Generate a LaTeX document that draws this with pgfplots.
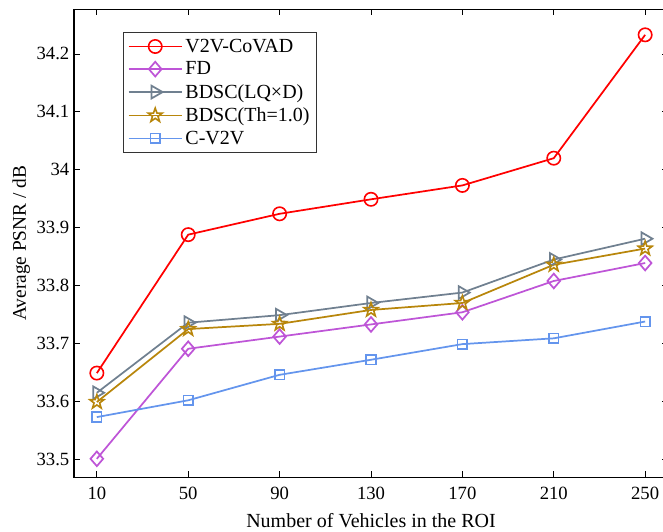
\documentclass[border=0pt]{standalone}
\usepackage{fontspec}
\setmainfont{Liberation Serif}
\usepackage{pgfplots}
\pgfplotsset{compat=1.18}

\definecolor{cRed}{RGB}{255,0,0}
\definecolor{cFD}{RGB}{190,85,215}
\definecolor{cLQ}{RGB}{112,128,144}
\definecolor{cTh}{RGB}{184,134,11}
\definecolor{cCV}{RGB}{100,149,237}

% outlined five-pointed star, like MATLAB's pentagram
\pgfdeclareplotmark{pentagram}{%
  \pgfpathmoveto{\pgfpointpolar{90}{\pgfplotmarksize}}%
  \pgfpathlineto{\pgfpointpolar{126}{0.4\pgfplotmarksize}}%
  \pgfpathlineto{\pgfpointpolar{162}{\pgfplotmarksize}}%
  \pgfpathlineto{\pgfpointpolar{198}{0.4\pgfplotmarksize}}%
  \pgfpathlineto{\pgfpointpolar{234}{\pgfplotmarksize}}%
  \pgfpathlineto{\pgfpointpolar{270}{0.4\pgfplotmarksize}}%
  \pgfpathlineto{\pgfpointpolar{306}{\pgfplotmarksize}}%
  \pgfpathlineto{\pgfpointpolar{342}{0.4\pgfplotmarksize}}%
  \pgfpathlineto{\pgfpointpolar{18}{\pgfplotmarksize}}%
  \pgfpathlineto{\pgfpointpolar{54}{0.4\pgfplotmarksize}}%
  \pgfpathclose
  \pgfusepathqstroke
}

\begin{document}
\begin{tikzpicture}
\begin{axis}[
    scale only axis,
    width=445.5pt, height=351pt,
    xmin=0, xmax=260,
    ymin=33.469, ymax=34.277,
    xtick={10,50,90,130,170,210,250},
    ytick={33.5,33.6,33.7,33.8,33.9,34,34.1,34.2},
    yticklabels={33.5,33.6,33.7,33.8,33.9,34,34.1,34.2},
    tick align=inside,
    major tick length=4.5pt,
    axis line style={line width=0.8pt},
    every tick/.style={black, line width=0.6pt},
    /pgf/number format/assume math mode=true,
    ticklabel style={font=\fontsize{14}{16}\selectfont},
    xticklabel style={yshift=-4pt},
    xlabel style={font=\fontsize{15}{17}\selectfont, yshift=-3pt},
    ylabel style={font=\fontsize{14.5}{17}\selectfont, yshift=-2pt},
    xlabel={Number of Vehicles in the ROI},
    ylabel={Average PSNR / dB},
    legend style={at={(0.083,0.952)}, anchor=north west,
        font=\fontsize{15}{17}\selectfont, draw=black!80, line width=0.6pt,
        cells={anchor=west}, row sep=1.6pt, inner xsep=3pt, inner ysep=3pt},
    legend image code/.code={%
        \draw[mark repeat=2,mark phase=2] plot coordinates {(0pt,0pt)(20pt,0pt)(40pt,0pt)};},
    every axis plot/.append style={line width=1.3pt, mark options={solid, fill=none, line width=1.2pt}},
]
\addplot[color=cRed, mark=o, mark size=5pt] coordinates {
(10,33.649) (50,33.888) (90,33.924) (130,33.949) (170,33.973) (210,34.020) (250,34.233)};
\addlegendentry{V2V-CoVAD}
\addplot[color=cFD, mark=diamond, mark size=5.5pt, mark options={xscale=1.15}] coordinates {
(10,33.501) (50,33.691) (90,33.712) (130,33.733) (170,33.754) (210,33.808) (250,33.839)};
\addlegendentry{FD}
\addplot[color=cLQ, mark=triangle, mark size=5.5pt, mark options={rotate=-90}] coordinates {
(10,33.615) (50,33.736) (90,33.749) (130,33.770) (170,33.788) (210,33.845) (250,33.881)};
\addlegendentry{BDSC(LQ×D)}
\addplot[color=cTh, mark=pentagram, mark size=5.5pt] coordinates {
(10,33.599) (50,33.725) (90,33.734) (130,33.758) (170,33.770) (210,33.836) (250,33.864)};
\addlegendentry{BDSC(Th=1.0)}
\addplot[color=cCV, mark=square, mark size=3.6pt] coordinates {
(10,33.573) (50,33.602) (90,33.646) (130,33.672) (170,33.699) (210,33.709) (250,33.738)};
\addlegendentry{C-V2V}
\end{axis}
\pgfresetboundingbox
\path ([xshift=-55.5pt,yshift=-40.5pt]current axis.south west)
  rectangle ([xshift=-3.75pt,yshift=7pt]current axis.north east);
\end{tikzpicture}
\end{document}
